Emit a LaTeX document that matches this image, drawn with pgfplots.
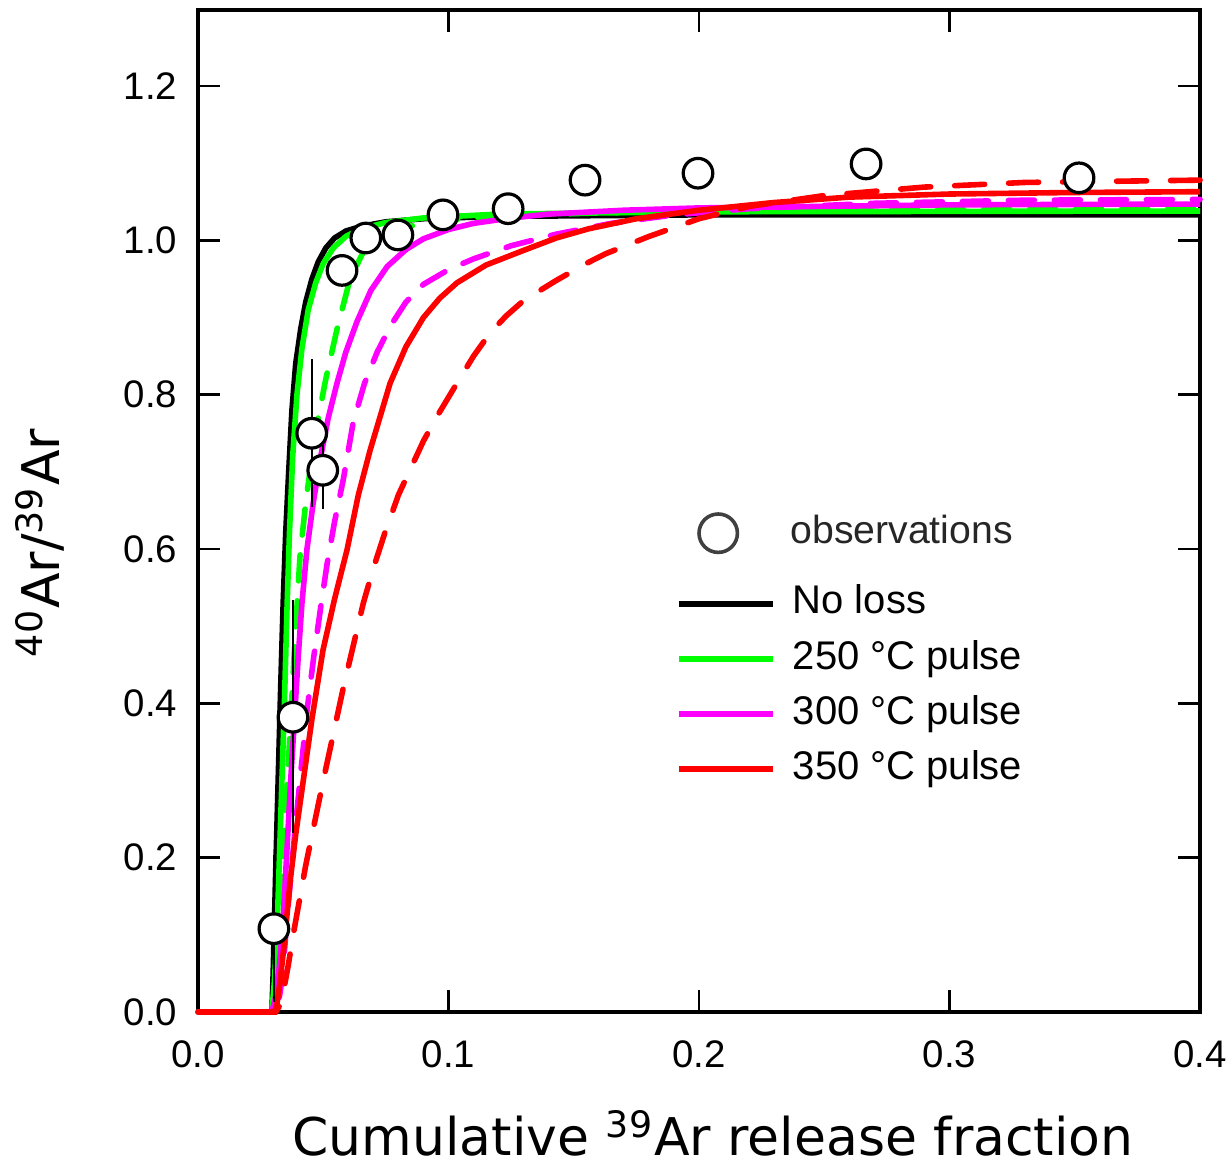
\documentclass[border=0pt]{standalone}
\usepackage{pgfplots}
\pgfplotsset{compat=1.18}
\usepackage{pgfplotstable}
\usepackage{fontspec}
\setmainfont{Liberation Sans}
\newfontfamily\dejavu{DejaVu Sans}
\definecolor{cgreen}{RGB}{0,255,0}
\definecolor{cmag}{RGB}{255,0,255}
\definecolor{cred}{RGB}{255,0,0}

\pgfplotstableread{
x y ep em
0.0303 0.108 0.095 0.095
0.0379 0.382 0.152 0.150
0.0454 0.750 0.096 0.096
0.0498 0.702 0.050 0.050
0.0575 0.961 0 0
0.0670 1.003 0 0
0.0798 1.007 0 0
0.0978 1.033 0 0
0.1238 1.041 0 0
0.1545 1.078 0 0
0.1996 1.087 0 0
0.2667 1.099 0 0
0.3517 1.081 0 0
}\obs

\begin{document}
\begin{tikzpicture}
\begin{axis}[
  name=main,
  scale only axis,
  width=250.5pt, height=250.5pt,
  xmin=0, xmax=0.4, ymin=0, ymax=1.2985,
  clip=false,
  xtick={0,0.1,0.2,0.3,0.4},
  ytick={0,0.2,0.4,0.6,0.8,1.0,1.2},
  xticklabels={0.0,0.1,0.2,0.3,0.4},
  yticklabels={0.0,0.2,0.4,0.6,0.8,1.0,1.2},
  tick align=inside,
  major tick length=5.5pt,
  every tick/.style={black, line width=0.7pt},
  axis line style={line width=0.8pt},
  ticklabel style={font=\fontsize{9.6}{11}\selectfont},
  xticklabel style={inner sep=0pt, anchor=north, yshift=-7pt},
  yticklabel style={inner sep=0pt, anchor=east, xshift=-5pt},
  xlabel={\dejavu Cumulative \textsuperscript{39}Ar release fraction},
  ylabel={\dejavu \textsuperscript{40}Ar/\textsuperscript{39}Ar},
  label style={font=\fontsize{13}{15}\selectfont},
  xlabel style={at={(axis description cs:0.514,-0.121)}, anchor=center},
  ylabel style={at={(axis description cs:-0.158,0.468)}, anchor=center, rotate=0},
  legend style={at={(axis description cs:0.477,0.426)}, anchor=north west,
    draw=none, fill=none, inner sep=0pt, outer sep=0pt,
    row sep=4.6pt, column sep=4.2pt,
    font=\fontsize{10}{11}\selectfont,
    nodes={inner sep=0pt, text height=7.2pt, text depth=2pt}},
  legend cell align=left,
  legend image code/.code={\draw[#1, solid, line width=1.5pt] (0pt,0pt) -- (23.5pt,0pt);},
]
\addlegendimage{black}
\addlegendentry{No loss}
\addlegendimage{cgreen}
\addlegendentry{250 \textdegree C pulse}
\addlegendimage{cmag}
\addlegendentry{300 \textdegree C pulse}
\addlegendimage{cred}
\addlegendentry{350 \textdegree C pulse}

% No loss
\addplot[forget plot, black, line width=1.4pt, line join=round] coordinates {
(0,0) (0.0295,0) (0.0300,0.05) (0.0310,0.18) (0.0320,0.30) (0.0330,0.42) (0.0340,0.53) (0.0350,0.62) (0.0362,0.70) (0.0375,0.78) (0.0390,0.84) (0.0410,0.885) (0.0430,0.92) (0.0455,0.95) (0.0480,0.972) (0.0510,0.99) (0.0545,1.003) (0.0590,1.012) (0.065,1.018) (0.075,1.024) (0.09,1.028) (0.12,1.031) (0.2,1.033) (0.4,1.033)};
% 250 solid
\addplot[forget plot, cgreen, line width=1.4pt, line join=round] coordinates {
(0,0) (0.0295,0) (0.0305,0.04) (0.0315,0.10) (0.0325,0.20) (0.0335,0.30) (0.0345,0.40) (0.0355,0.52) (0.0365,0.62) (0.0378,0.72) (0.0395,0.80) (0.0415,0.86) (0.044,0.91) (0.047,0.945) (0.050,0.97) (0.054,0.99) (0.059,1.005) (0.065,1.015) (0.075,1.023) (0.09,1.029) (0.12,1.034) (0.2,1.037) (0.4,1.038)};
% 250 dashed
\addplot[forget plot, cgreen, line width=1.4pt, line cap=round, dash pattern=on 6.5pt off 5pt] coordinates {
(0,0) (0.0295,0) (0.031,0.03) (0.032,0.08) (0.0335,0.17) (0.035,0.26) (0.0367,0.36) (0.0385,0.47) (0.0407,0.59) (0.0430,0.66) (0.0455,0.72) (0.048,0.77) (0.051,0.82) (0.0555,0.885) (0.0607,0.95) (0.066,0.985) (0.0715,1.003) (0.08,1.015) (0.09,1.022) (0.105,1.028) (0.12,1.032) (0.2,1.039) (0.4,1.041)};
% 300 solid
\addplot[forget plot, cmag, line width=1.4pt, line join=round] coordinates {
(0,0) (0.0295,0) (0.031,0.02) (0.0325,0.06) (0.034,0.12) (0.0355,0.21) (0.037,0.30) (0.0385,0.38) (0.040,0.46) (0.0415,0.53) (0.0435,0.60) (0.046,0.66) (0.049,0.72) (0.052,0.77) (0.0555,0.815) (0.059,0.855) (0.0635,0.895) (0.069,0.935) (0.0755,0.966) (0.083,0.988) (0.090,1.002) (0.10,1.014) (0.11,1.022) (0.125,1.029) (0.14,1.034) (0.17,1.039) (0.2,1.042) (0.3,1.046) (0.4,1.047)};
% 300 dashed
\addplot[forget plot, cmag, line width=1.4pt, line cap=round, dash pattern=on 6.5pt off 5pt] coordinates {
(0,0) (0.0305,0) (0.032,0.01) (0.033,0.03) (0.0343,0.07) (0.0355,0.12) (0.038,0.21) (0.0407,0.30) (0.0435,0.39) (0.0462,0.46) (0.049,0.525) (0.0515,0.58) (0.0545,0.635) (0.058,0.69) (0.062,0.765) (0.0665,0.815) (0.0715,0.855) (0.077,0.89) (0.083,0.92) (0.09,0.943) (0.10,0.962) (0.11,0.976) (0.125,0.993) (0.143,1.008) (0.165,1.022) (0.19,1.033) (0.22,1.041) (0.27,1.048) (0.33,1.052) (0.4,1.053)};
% 350 solid
\addplot[forget plot, cred, line width=1.4pt, line join=round] coordinates {
(0,0) (0.0305,0) (0.0315,0.01) (0.0327,0.038) (0.0345,0.09) (0.0367,0.167) (0.039,0.23) (0.0419,0.297) (0.0455,0.38) (0.0499,0.469) (0.0545,0.535) (0.0595,0.599) (0.064,0.67) (0.0687,0.728) (0.0767,0.815) (0.083,0.862) (0.090,0.90) (0.0965,0.925) (0.1034,0.945) (0.115,0.968) (0.130,0.987) (0.143,1.003) (0.156,1.015) (0.175,1.028) (0.2,1.039) (0.23,1.049) (0.26,1.056) (0.3,1.060) (0.35,1.062) (0.4,1.063)};
% 350 dashed
\addplot[forget plot, cred, line width=1.4pt, line cap=round, dash pattern=on 7.5pt off 6pt] coordinates {
(0,0) (0.031,0) (0.033,0.01) (0.034,0.025) (0.036,0.06) (0.038,0.10) (0.0405,0.145) (0.043,0.19) (0.0465,0.245) (0.050,0.30) (0.054,0.36) (0.058,0.42) (0.062,0.475) (0.066,0.53) (0.070,0.575) (0.0745,0.62) (0.080,0.67) (0.085,0.705) (0.090,0.74) (0.096,0.775) (0.1034,0.815) (0.110,0.85) (0.1166,0.88) (0.123,0.902) (0.130,0.922) (0.143,0.948) (0.155,0.97) (0.163,0.983) (0.18,1.005) (0.2,1.028) (0.22,1.044) (0.25,1.058) (0.29,1.069) (0.33,1.075) (0.4,1.078)};
% observations
\addplot[forget plot, only marks, mark=*, mark size=3.7pt,
  mark options={fill=white, draw=black, line width=0.8pt},
  error bars/.cd, y dir=both, y explicit, error mark=none,
  error bar style={line width=0.6pt, black}]
  table[x=x, y=y, y error plus=ep, y error minus=em] {\obs};
\end{axis}
\begin{axis}[
  scale only axis,
  width=250.5pt, height=250.5pt,
  xmin=0, xmax=0.4, ymin=0, ymax=1.2985,
  hide axis,
  legend style={at={(axis description cs:0.500,0.497)}, anchor=north west,
    draw=none, fill=none, inner sep=0pt, outer sep=0pt, column sep=13.25pt,
    font=\fontsize{9.8}{11}\selectfont,
    nodes={inner sep=0pt, text height=7pt, text depth=2pt}},
]
\addlegendimage{only marks, mark=o, mark size=4.8pt, mark options={draw=black!75, line width=0.9pt}}
\addlegendentry{\textcolor{black!85}{observations}}
\end{axis}
\pgfresetboundingbox
\path[use as bounding box] ([shift={(-49.5pt,-38pt)}]main.south west) rectangle ([shift={(8pt,2.5pt)}]main.north east);
\end{tikzpicture}
\end{document}
